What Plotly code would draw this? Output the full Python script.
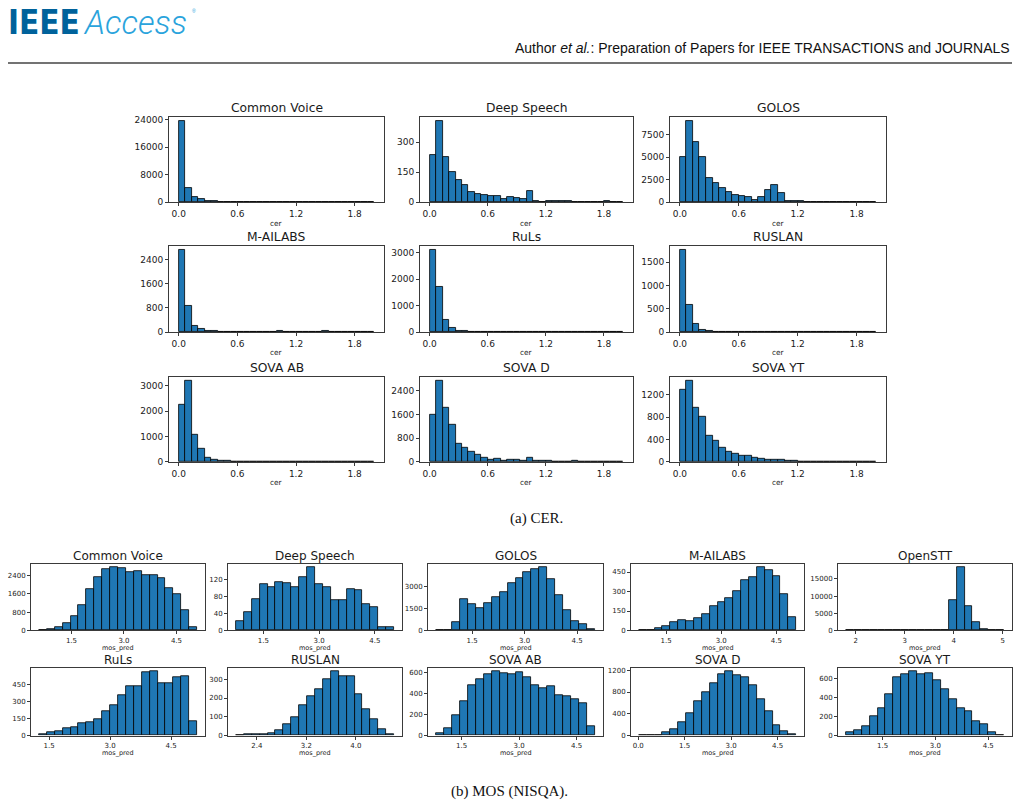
import numpy as np
import plotly.graph_objects as go

W, H = 1019, 806

# ---------------- data: CER histograms (30 bins over [0, 2]) ----------------
cer_lo, cer_hi = 0.0, 2.0
cer_titles = ["Common Voice", "Deep Speech", "GOLOS", "M-AILABS", "RuLs", "RUSLAN",
              "SOVA AB", "SOVA D", "SOVA YT"]
cer_common_voice = [23580, 4000, 1430, 860, 380, 290, 90, 70, 60, 50, 50, 50, 50, 150, 200,
                    220, 150, 60, 50, 50, 40, 40, 30, 20, 20, 120, 20, 10, 10, 10]
cer_deep_speech = [236, 406, 228, 153, 109, 85, 49, 39, 36, 31, 29, 16, 24, 20, 15,
                   54, 8, 2, 6, 6, 6, 5, 3, 3, 3, 3, 2, 4, 2, 3]
cer_golos = [5000, 8980, 6670, 5010, 2630, 2160, 1620, 1080, 790, 685, 540, 300, 540, 1400, 1950,
             975, 144, 108, 108, 40, 40, 30, 30, 30, 30, 30, 20, 40, 40, 30]
cer_m_ailabs = [2720, 880, 210, 107, 30, 25, 12, 10, 10, 10, 10, 10, 10, 8, 15,
                40, 15, 12, 10, 10, 12, 5, 25, 5, 3, 3, 3, 20, 5, 5]
cer_ruls = [3094, 1710, 457, 148, 62, 37, 25, 20, 15, 22, 5, 5, 5, 25, 5,
            5, 3, 3, 3, 2, 2, 2, 2, 2, 2, 2, 2, 2, 2, 2]
cer_ruslan = [1766, 590, 176, 56, 21, 10, 6, 5, 5, 4, 4, 10, 12, 12, 12,
              8, 12, 3, 2, 2, 2, 2, 2, 2, 2, 2, 2, 2, 2, 2]
cer_sova_ab = [2250, 3190, 1080, 515, 167, 77, 50, 38, 15, 10, 8, 8, 8, 25, 20,
               15, 12, 3, 2, 2, 2, 2, 2, 2, 2, 2, 2, 2, 2, 2]
cer_sova_d = [1600, 2730, 1830, 1265, 627, 495, 341, 231, 143, 88, 99, 44, 66, 66, 33,
              143, 44, 33, 33, 20, 10, 10, 30, 10, 5, 5, 5, 5, 5, 5]
cer_sova_yt = [1300, 1453, 970, 806, 470, 388, 253, 188, 141, 106, 106, 76, 59, 47, 41,
               35, 18, 15, 10, 8, 8, 5, 5, 5, 5, 2, 5, 5, 2, 5]
cer_counts = [cer_common_voice, cer_deep_speech, cer_golos, cer_m_ailabs, cer_ruls,
              cer_ruslan, cer_sova_ab, cer_sova_d, cer_sova_yt]
cer_yticks = [[0, 8000, 16000, 24000], [0, 150, 300], [0, 2500, 5000, 7500],
              [0, 800, 1600, 2400], [0, 1000, 2000, 3000], [0, 500, 1000, 1500],
              [0, 1000, 2000, 3000], [0, 800, 1600, 2400], [0, 400, 800, 1200]]
cer_xticks = [0.0, 0.6, 1.2, 1.8]
cer_xticklabels = ["0.0", "0.6", "1.2", "1.8"]
cer_xlabel = "cer"

# ---------------- data: MOS (NISQA) histograms (20 bins each) ----------------
mos_titles = ["Common Voice", "Deep Speech", "GOLOS", "M-AILABS", "OpenSTT",
              "RuLs", "RUSLAN", "SOVA AB", "SOVA D", "SOVA YT"]
mos_common_voice = [10, 70, 140, 310, 620, 1120, 1800, 2350, 2680, 2760,
                    2720, 2530, 2590, 2400, 2420, 2270, 1870, 1600, 890, 170]
mos_deep_speech = [22, 44, 74, 110, 102, 116, 112, 103, 127, 150,
                   110, 102, 72, 73, 98, 96, 63, 55, 9, 9]
mos_golos = [10, 60, 600, 2150, 1780, 1520, 1870, 2270, 2640, 3220,
             3620, 3980, 4220, 4330, 3550, 2400, 1380, 620, 440, 130]
mos_m_ailabs = [1, 5, 20, 37, 68, 82, 70, 97, 127, 187,
                217, 252, 300, 392, 412, 487, 465, 420, 277, 105]
mos_openstt = [5, 2, 2, 2, 3, 3, 3, 5, 5, 8,
               10, 15, 30, 8960, 18400, 7170, 2360, 470, 80, 20]
mos_ruls = [9, 26, 43, 66, 78, 110, 121, 147, 210, 268,
            355, 430, 430, 554, 563, 462, 462, 513, 525, 124]
mos_ruslan = [3, 5, 8, 8, 12, 30, 62, 100, 160, 210,
              248, 300, 342, 317, 316, 219, 141, 90, 35, 7]
mos_sova_ab = [20, 70, 195, 330, 475, 540, 580, 610, 595, 580,
               605, 555, 475, 450, 465, 380, 375, 345, 310, 85]
mos_sova_d = [2, 3, 10, 55, 125, 255, 420, 625, 800, 960,
              1130, 1180, 1110, 1070, 920, 670, 450, 200, 90, 30]
mos_sova_yt = [35, 55, 100, 205, 290, 435, 610, 640, 670, 640,
               650, 580, 485, 375, 290, 255, 155, 115, 35, 5]
mos_counts = [mos_common_voice, mos_deep_speech, mos_golos, mos_m_ailabs, mos_openstt,
              mos_ruls, mos_ruslan, mos_sova_ab, mos_sova_d, mos_sova_yt]
mos_min = [0.57, 0.76, 0.47, 0.757, 1.80, 1.25, 2.06, 0.83, 0.02, 0.46]
mos_max = [5.09, 5.02, 5.01, 5.04, 5.03, 5.14, 4.62, 4.98, 5.10, 4.95]
mos_yticks = [[0, 800, 1600, 2400], [0, 40, 80, 120], [0, 1500, 3000], [0, 150, 300, 450],
              [0, 5000, 10000, 15000], [0, 150, 300, 450], [0, 100, 200, 300],
              [0, 200, 400, 600], [0, 400, 800, 1200], [0, 200, 400, 600]]
mos_xticklabels = [["1.5", "3.0", "4.5"], ["1.5", "3.0", "4.5"], ["1.5", "3.0", "4.5"],
                   ["1.5", "3.0", "4.5"], ["2", "3", "4", "5"], ["1.5", "3.0", "4.5"],
                   ["2.4", "3.2", "4.0"], ["1.5", "3.0", "4.5"], ["0.0", "1.5", "3.0", "4.5"],
                   ["1.5", "3.0", "4.5"]]
mos_xlabel = "mos_pred"

# ---------------- layout geometry (pixels) ----------------
cer_cols = [(169, 384), (420, 633), (670, 886)]
cer_rows = [(116, 202), (246, 333), (378, 464)]
mos_cols = [(31, 205), (228, 402), (428, 603), (631, 804), (838, 1012)]
mos_rows = [(567, 634), (672, 740)]

BAR = "#1f77b4"
AX = "#3a3a3a"
TXT = "#1a1a1a"
FONT = "DejaVu Sans"

fig = go.Figure()
layout = {}
annotations = []
counter = [0]


def add_hist(counts, lo, hi, box, yticks, xtickvals, xticktext, title, xlabel,
             tick_size, title_size, label_size, title_gap, label_gap):
    counter[0] += 1
    i = counter[0]
    sfx = "" if i == 1 else str(i)
    (x0, x1), (y0, y1) = box
    n = len(counts)
    edges = np.linspace(lo, hi, n + 1)
    centers = (edges[:-1] + edges[1:]) / 2
    width = edges[1] - edges[0]
    fig.add_trace(go.Bar(
        x=centers, y=counts, width=[width] * n,
        marker=dict(color=BAR, line=dict(color="black", width=0.8)),
        xaxis="x" + sfx, yaxis="y" + sfx, showlegend=False, hoverinfo="x+y"))
    span = hi - lo
    common = dict(showgrid=False, zeroline=False, showline=True, mirror=True,
                  linecolor=AX, linewidth=1, ticks="outside", ticklen=3,
                  tickwidth=1, tickcolor=AX,
                  tickfont=dict(family=FONT, size=tick_size, color=TXT))
    layout["xaxis" + sfx] = dict(
        domain=[x0 / W, x1 / W], anchor="y" + sfx,
        range=[lo - 0.05 * span, hi + 0.05 * span],
        tickmode="array", tickvals=xtickvals, ticktext=xticktext, **common)
    layout["yaxis" + sfx] = dict(
        domain=[1 - y1 / H, 1 - y0 / H], anchor="x" + sfx,
        range=[0, max(counts) * 1.05],
        tickmode="array", tickvals=yticks, ticktext=[str(v) for v in yticks], **common)
    cx = (x0 + x1) / 2 / W
    annotations.append(dict(text=title, x=cx, y=1 - (y0 - title_gap) / H,
                            xref="paper", yref="paper", showarrow=False,
                            xanchor="center", yanchor="middle",
                            font=dict(family=FONT, size=title_size, color=TXT)))
    annotations.append(dict(text=xlabel, x=cx, y=1 - (y1 + label_gap) / H,
                            xref="paper", yref="paper", showarrow=False,
                            xanchor="center", yanchor="middle",
                            font=dict(family=FONT, size=label_size, color="#222222")))


for k in range(9):
    r, c = divmod(k, 3)
    add_hist(cer_counts[k], cer_lo, cer_hi, (cer_cols[c], cer_rows[r]), cer_yticks[k],
             cer_xticks, cer_xticklabels, cer_titles[k], cer_xlabel,
             tick_size=9, title_size=12.3, label_size=7.4, title_gap=9, label_gap=21)

for k in range(10):
    r, c = divmod(k, 5)
    xt = [float(t) for t in mos_xticklabels[k]]
    add_hist(mos_counts[k], mos_min[k], mos_max[k], (mos_cols[c], mos_rows[r]), mos_yticks[k],
             xt, mos_xticklabels[k], mos_titles[k], mos_xlabel,
             tick_size=7, title_size=12, label_size=6.5, title_gap=8, label_gap=17.5)

# ---------------- page furniture ----------------
annotations += [
    dict(text="<b>IEEE</b>", x=6 / W, y=1 - 21 / H, xref="paper", yref="paper",
         showarrow=False, xanchor="left", yanchor="middle",
         font=dict(family="DejaVu Sans Condensed, Liberation Sans", size=33, color="#00629B")),
    dict(text="Access", x=81 / W, y=1 - 21 / H, xref="paper", yref="paper",
         showarrow=False, xanchor="left", yanchor="middle",
         font=dict(family="Roboto", size=33, color="#2aa3dc",
                   style="italic", weight=300)),
    dict(text="®", x=190 / W, y=1 - 9 / H, xref="paper", yref="paper",
         showarrow=False, xanchor="left", yanchor="middle",
         font=dict(family="Liberation Sans", size=5, color="#2aa3dc")),
    dict(text="Author <i>et al.</i>: Preparation of Papers for IEEE TRANSACTIONS and JOURNALS",
         x=1012 / W, y=1 - 46 / H, xref="paper", yref="paper", showarrow=False,
         xanchor="right", yanchor="middle",
         font=dict(family="Liberation Sans", size=14, color="#111111")),
    dict(text="(a) CER.", x=536 / W, y=1 - 521 / H, xref="paper", yref="paper",
         showarrow=False, xanchor="center", yanchor="middle",
         font=dict(family="Liberation Serif", size=15, color="#111111")),
    dict(text="(b) MOS (NISQA).", x=510 / W, y=1 - 796 / H, xref="paper", yref="paper",
         showarrow=False, xanchor="center", yanchor="middle",
         font=dict(family="Liberation Serif", size=15, color="#111111")),
]

shapes = [dict(type="line", xref="paper", yref="paper", x0=8 / W, x1=1012 / W,
               y0=1 - 61.5 / H, y1=1 - 61.5 / H, line=dict(color="#444444", width=1.5))]

fig.update_layout(width=W, height=H, autosize=False,
                  margin=dict(l=0, r=0, t=0, b=0, pad=0),
                  paper_bgcolor="white", plot_bgcolor="white",
                  bargap=0, annotations=annotations, shapes=shapes,
                  font=dict(family=FONT), **layout)

fig.write_html("out.html", config={"displayModeBar": False})
